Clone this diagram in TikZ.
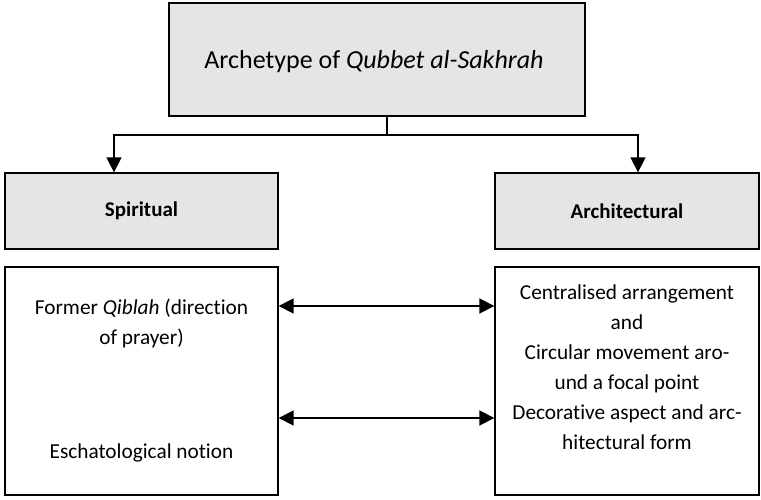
\documentclass[tikz,border=0pt]{standalone}
\usepackage{fontspec}
\setmainfont{Carlito}[Ligatures=NoCommon]
\usetikzlibrary{positioning, arrows.meta}
\definecolor{boxGray}{RGB}{229,229,229}

\begin{document}
\begin{tikzpicture}[
  x=1pt, y=-1pt,
  box/.style={draw=black, line width=1.4pt, inner sep=0pt},
  head/.style={box, fill=boxGray},
  txt/.style={font=\fontsize{21.3}{30}\selectfont, align=center},
  lbl/.style={font=\fontsize{21}{24}\selectfont\bfseries},
  link/.style={line width=1.8pt, -{Triangle[length=15pt, width=15pt]}},
  dbl/.style={line width=1.8pt, {Triangle[length=15pt, width=15pt]}-{Triangle[length=15pt, width=15pt]}},
]
  \useasboundingbox (0,0) rectangle (761,500);
  \node[head, minimum width=416pt, minimum height=113pt] (arch) at (377,59.5) {};
  \node[font=\fontsize{26}{30}\selectfont] (title) at (374,62)
    {Archetype of \textit{Qubbet al-Sakhrah}};
  \node[head, minimum width=273pt, minimum height=76pt, lbl] (spir) at (141.5,211) {Spiritual};
  \node[head, minimum width=264pt, minimum height=76pt, lbl] (archi) at (627,211) {Architectural};
  \node[box, minimum width=273pt, minimum height=228pt] (lowleft) at (141.5,381) {};
  \node[box, minimum width=264pt, minimum height=228pt] (lowright) at (627,381) {};
  % box contents
  \node[txt] (qiblah) at (141.5,323.5) {Former \textit{Qiblah} (direction\\of prayer)};
  \node[txt] (eschat) at (141.5,453) {Eschatological notion};
  \node[txt] (forms) at (627,367.5)
    {Centralised arrangement\\and\\Circular movement aro-\\und a focal point\\
     Decorative aspect and arc-\\hitectural form};
  % connectors
  \coordinate (split) at (387,135);
  \coordinate (lower) at (0,418);
  \draw[line width=1.8pt] (arch.south -| split) -- (split);
  \draw[link] (split) -| (114,0 |- spir.north);
  \draw[link] (split) -| (638,0 |- archi.north);
  \draw[dbl] (lowleft.east |- 0,306) -- (lowright.west |- 0,306);
  \draw[dbl] (lower -| lowleft.east) -- (lower -| lowright.west);
\end{tikzpicture}
\end{document}
